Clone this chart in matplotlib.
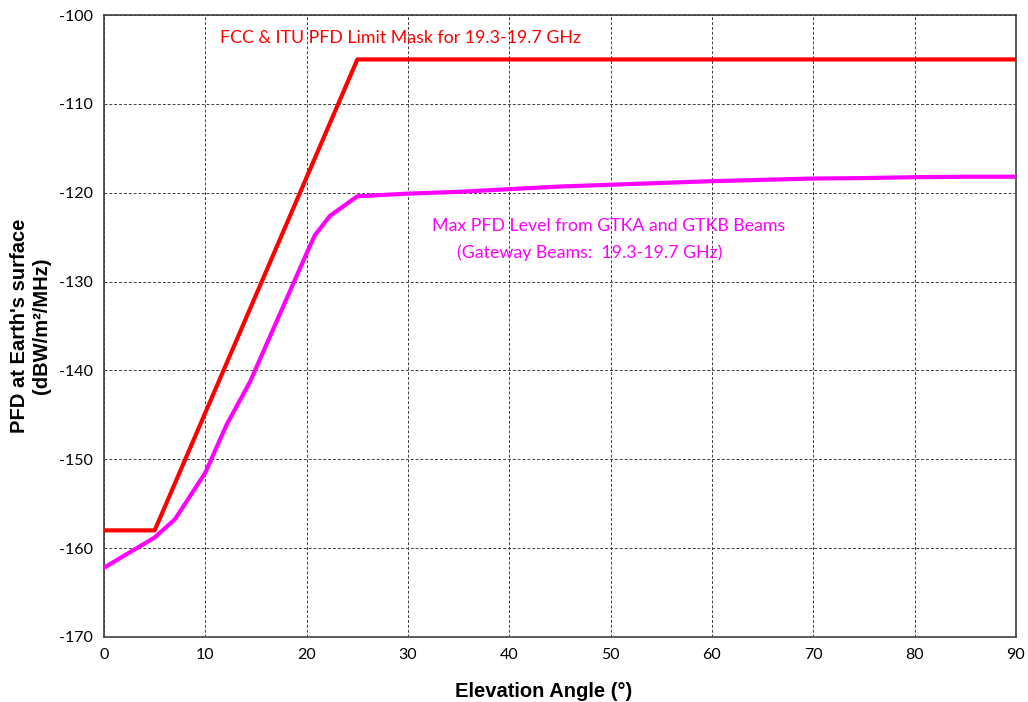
import numpy as np
import matplotlib.pyplot as plt

plt.rcParams['axes.unicode_minus'] = False

# FCC/ITU limit mask
mask_angle = [0, 5, 25, 90]
mask_pfd = [-158, -158, -105, -105]

# max PFD from GTKA/GTKB gateway beams
beam_angle = [0, 5, 7, 10, 12.1, 14.4, 18.3, 20, 20.8, 22.3, 25, 30, 35, 40, 45, 50,
              55, 60, 65, 70, 75, 80, 85, 90]
beam_pfd = [-162.2, -158.8, -156.75, -151.5, -146.1, -141.3, -131.2, -126.8, -124.8,
            -122.6, -120.4, -120.1, -119.9, -119.6, -119.3, -119.1, -118.9, -118.7,
            -118.55, -118.4, -118.35, -118.25, -118.2, -118.2]

xticks = np.arange(0, 91, 10)
yticks = np.arange(-170, -99, 10)

fig = plt.figure(figsize=(10.28, 7.02), dpi=100)
ax = fig.add_axes([0.1012, 0.0926, 0.8871, 0.886])

ax.plot(mask_angle, mask_pfd, color='#ff0000', lw=3, zorder=3)
ax.plot(beam_angle, beam_pfd, color='#ff00ff', lw=3, zorder=3)

ax.set_xlim(0, 90)
ax.set_ylim(-170, -100)
ax.set_xticks(xticks)
ax.set_yticks(yticks)
ax.grid(True, color='#404040', ls=(0, (3, 2)), lw=0.7)
ax.tick_params(length=0, labelsize=11.5, pad=8)
for lbl in ax.get_xticklabels() + ax.get_yticklabels():
    lbl.set_family('Lato')
for s in ax.spines.values():
    s.set_color('#404040')
    s.set_linewidth(1.2)

ax.text(11.45, -102.6, 'FCC & ITU PFD Limit Mask for 19.3-19.7 GHz', color='#ff0000',
        fontsize=12.8, family='Lato', va='center', ha='left')
ax.text(32.4, -123.7, 'Max PFD Level from GTKA and GTKB Beams', color='#ff00ff',
        fontsize=12.8, family='Lato', va='center', ha='left')
ax.text(34.8, -126.7, '(Gateway Beams:  19.3-19.7 GHz)', color='#ff00ff',
        fontsize=12.8, family='Lato', va='center', ha='left')

ax.set_xlabel('Elevation Angle (°)', fontsize=14.5, fontweight='bold',
              family='Liberation Sans')
ax.xaxis.set_label_coords(0.4825, -0.072)
ax.set_ylabel("PFD at Earth's surface\n(dBW/m²/MHz)", fontsize=14.5, fontweight='bold',
              family='Liberation Sans', labelpad=6)

fig.savefig('out.png', dpi=100)
